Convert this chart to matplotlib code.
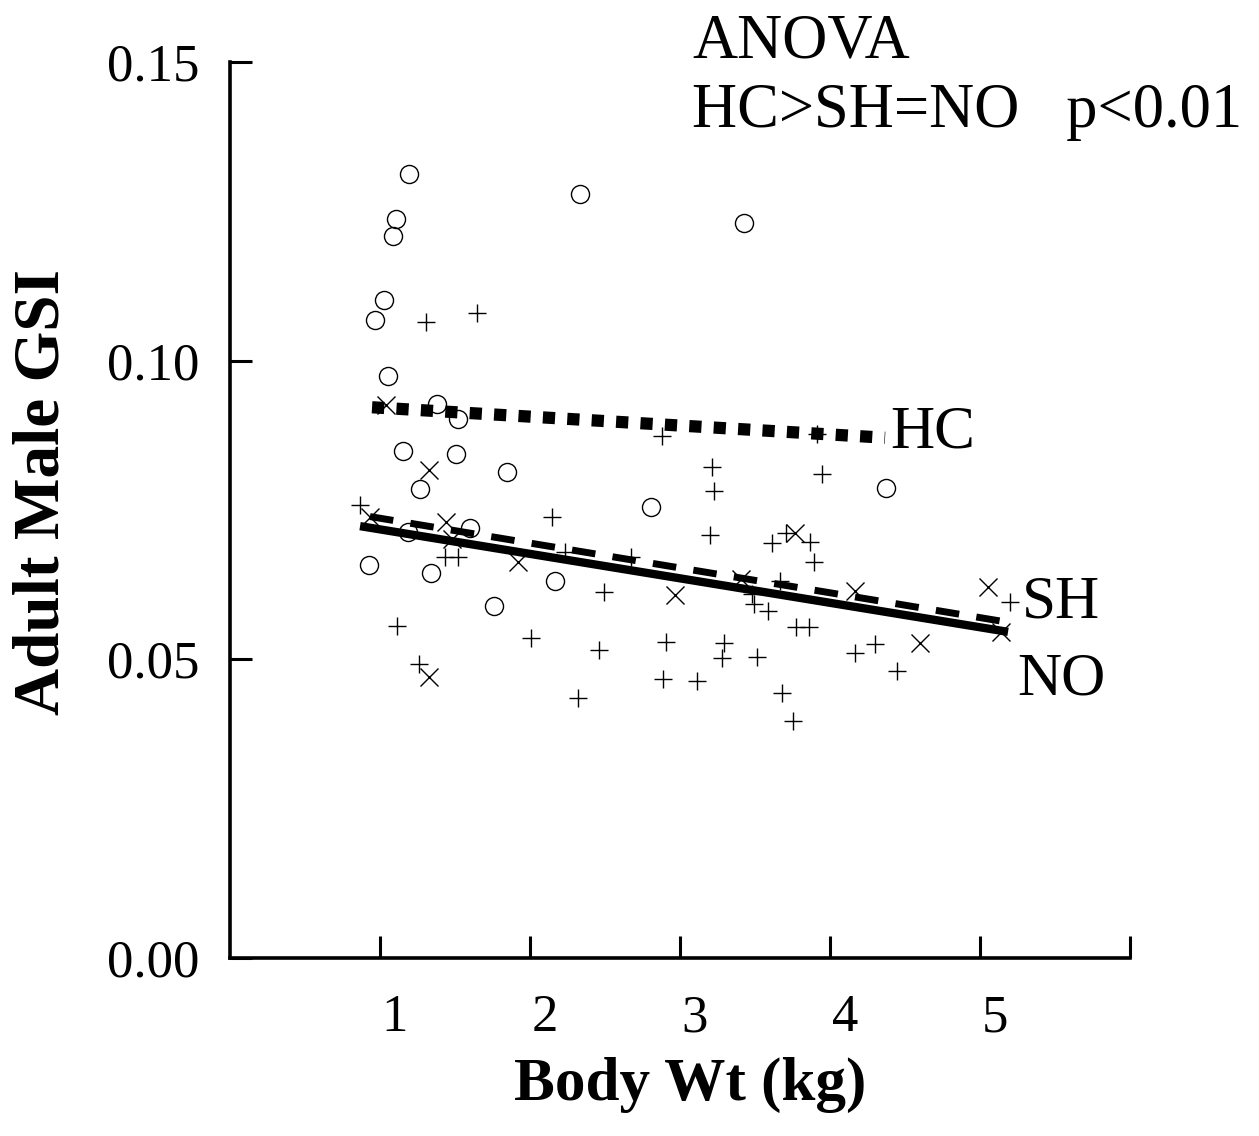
import numpy as np
import matplotlib
matplotlib.use("Agg")
import matplotlib.pyplot as plt
from matplotlib.transforms import ScaledTranslation

plt.rcParams["font.family"] = ["Liberation Serif", "DejaVu Serif"]

# HC group (open circles)
hc_wt = [1.193, 1.107, 1.087, 2.333, 3.427, 1.027, 0.967, 1.053, 1.380, 1.520, 1.153,
         1.507, 1.847, 1.267, 1.187, 1.600, 0.927, 1.340, 2.167, 1.760, 2.807, 4.373]
hc_gsi = [0.1313, 0.1237, 0.1209, 0.1279, 0.1231, 0.1102, 0.1068, 0.0974, 0.0928, 0.0902, 0.0849,
          0.0844, 0.0814, 0.0785, 0.0713, 0.0720, 0.0658, 0.0645, 0.0631, 0.0589, 0.0755, 0.0787]

# SH group (x marks)
sh_wt = [1.040, 1.327, 1.440, 1.480, 0.933, 1.920, 1.327, 2.967, 3.407, 3.767,
         4.167, 5.053, 5.140, 4.600]
sh_gsi = [0.0926, 0.0817, 0.0730, 0.0702, 0.0738, 0.0663, 0.0470, 0.0608, 0.0635, 0.0712,
          0.0614, 0.0621, 0.0546, 0.0527]

# NO group (plus marks)
no_wt = [1.307, 1.647, 0.867, 2.147, 1.433, 1.520, 2.233, 2.493, 1.113, 2.007, 2.460,
         1.260, 2.320, 2.880, 3.913, 3.213, 3.227, 3.947, 3.200, 3.613, 3.707, 3.867,
         3.893, 2.673, 3.667, 3.480, 3.493, 3.587, 3.773, 3.860, 2.907, 3.293, 3.280,
         3.513, 2.887, 3.113, 3.680, 3.753, 4.167, 4.300, 4.447, 5.200]
no_gsi = [0.1065, 0.1080, 0.0758, 0.0738, 0.0671, 0.0671, 0.0680, 0.0613, 0.0556, 0.0536, 0.0516,
          0.0492, 0.0435, 0.0874, 0.0877, 0.0822, 0.0782, 0.0810, 0.0708, 0.0695, 0.0712, 0.0696,
          0.0663, 0.0671, 0.0631, 0.0609, 0.0593, 0.0581, 0.0554, 0.0554, 0.0529, 0.0527, 0.0502,
          0.0504, 0.0467, 0.0464, 0.0444, 0.0397, 0.0511, 0.0526, 0.0480, 0.0596]

# fitted regression lines (end points)
hc_fit_x = [0.947, 4.367]
hc_fit_y = [0.0922, 0.0871]
sh_fit_x = [0.933, 5.140]
sh_fit_y = [0.0739, 0.0564]
no_fit_x = [0.867, 5.187]
no_fit_y = [0.0723, 0.0546]

x_ticks = [1, 2, 3, 4, 5, 6]
x_ticklabels = ["1", "2", "3", "4", "5", ""]
y_ticks = [0.00, 0.05, 0.10, 0.15]
y_ticklabels = ["0.00", "0.05", "0.10", "0.15"]

fig = plt.figure(figsize=(12.59, 11.36), dpi=100)
ax = fig.add_axes([230 / 1259, 178 / 1136, 900 / 1259, 896 / 1136])

ax.plot(hc_wt, hc_gsi, ls="none", marker="o", ms=13, mfc="none", mec="black", mew=1.0)
ax.plot(sh_wt, sh_gsi, ls="none", marker="x", ms=13, mec="black", mew=1.0)
ax.plot(no_wt, no_gsi, ls="none", marker="+", ms=13, mec="black", mew=1.0)

ax.plot(hc_fit_x, hc_fit_y, color="black", lw=8.8, ls=(0, (1, 1)), dash_capstyle="butt")
ax.plot(sh_fit_x, sh_fit_y, color="black", lw=5, ls=(0, (3.4, 2.5)), dash_capstyle="butt")
ax.plot(no_fit_x, no_fit_y, color="black", lw=6, solid_capstyle="butt")

ax.text(4.40, 0.0879, "HC", fontsize=44, ha="left", va="center")
ax.text(5.28, 0.0594, "SH", fontsize=44, ha="left", va="center")
ax.text(5.25, 0.0465, "NO", fontsize=44, ha="left", va="center")

ax.set_xlim(0, 6)
ax.set_ylim(0, 0.15)
ax.set_xticks(x_ticks)
ax.set_xticklabels(x_ticklabels)
ax.set_yticks(y_ticks)
ax.set_yticklabels(y_ticklabels)

for side in ["top", "right"]:
    ax.spines[side].set_visible(False)
for side in ["left", "bottom"]:
    ax.spines[side].set_linewidth(2.6)

ax.tick_params(axis="both", direction="in", length=16, width=2.2, labelsize=38)
ax.tick_params(axis="x", pad=26)
ax.tick_params(axis="y", pad=22)

# x tick labels sit a little right of the tick marks
shift = ScaledTranslation(15 / 100, 0, fig.dpi_scale_trans)
for lab in ax.get_xticklabels():
    lab.set_transform(lab.get_transform() + shift)

ax.set_xlabel("Body Wt (kg)", fontsize=44, fontweight="bold")
ax.xaxis.set_label_coords(0.511, -0.11)
ax.set_ylabel("Adult Male GSI", fontsize=47, fontweight="bold")
ax.yaxis.set_label_coords(-0.175, 0.52)

fig.text(692 / 1259, 1 - 57 / 1136, "ANOVA", fontsize=45, ha="left", va="baseline")
fig.text(692 / 1259, 1 - 127 / 1136, "HC>SH=NO   p<0.01", fontsize=45, ha="left", va="baseline")

fig.savefig("out.png", dpi=100)
